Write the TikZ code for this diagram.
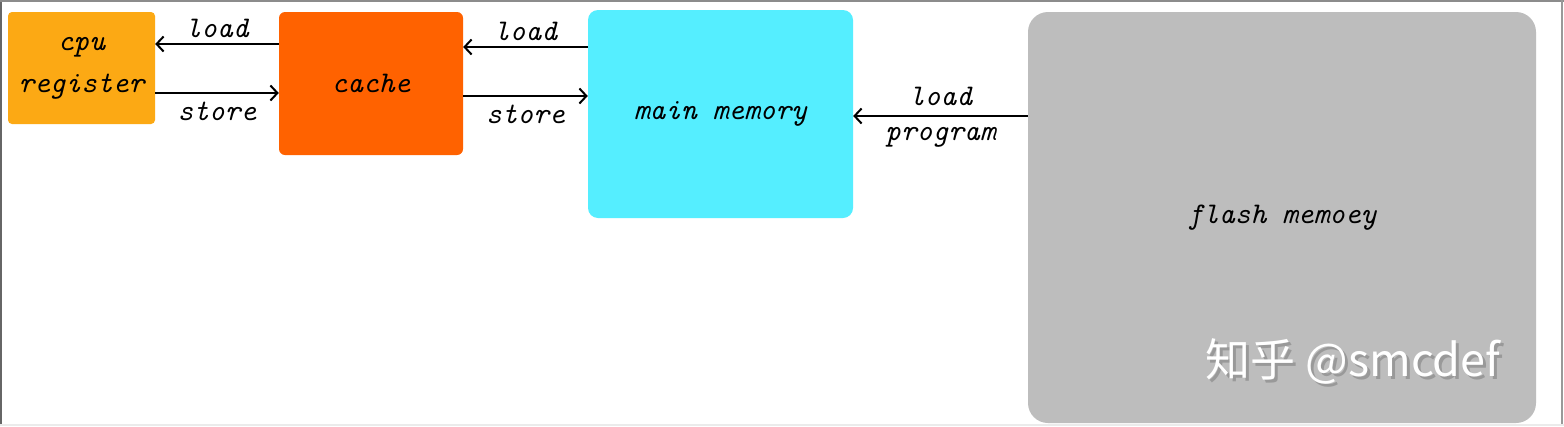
\documentclass[tikz,border=0pt]{standalone}
\usepackage{fontspec}
\newfontfamily\cjk{Noto Sans CJK SC}
\usetikzlibrary{arrows.meta}
\definecolor{cpuc}{HTML}{FCA914}
\definecolor{cachec}{HTML}{FF6200}
\definecolor{mainc}{HTML}{55EEFF}
\definecolor{flashc}{HTML}{BDBDBD}
\newcommand\handfont{\fontsize{30}{42}\selectfont\ttfamily\itshape}
\begin{document}
\begin{tikzpicture}[x=1pt,y=-1pt,
  box/.style={inner sep=0pt, font=\handfont, align=center},
  arr/.style={line width=2pt, -{Straight Barb[length=7pt,width=15pt,line width=2pt]}},
  lbl/.style={font=\handfont, inner sep=1pt}]
\useasboundingbox (0,0) rectangle (1564,426);
\fill[white] (0,0) rectangle (1564,426);
% frame
\draw[black!60, line width=2pt] (1,426) -- (1,1);
\draw[black!45, line width=1.5pt] (0,1) -- (1564,1);
\draw[black!40, line width=2pt] (1562,0) -- (1562,426);
\draw[black!8, line width=1.5pt] (0,425) -- (1564,425);
% boxes
\node[box, fill=cpuc, rounded corners=4pt, minimum width=147pt, minimum height=112pt] (cpu) at (81.5,68) {cpu\\register};
\node[box, fill=cachec, rounded corners=6pt, minimum width=184pt, minimum height=143pt] (cache) at (371,83.5) {cache};
\node[box, fill=mainc, rounded corners=10pt, minimum width=265pt, minimum height=208pt] (main) at (720.5,114) {main memory};
\node[box, fill=flashc, rounded corners=20pt, minimum width=508pt, minimum height=411pt] (flash) at (1282,217.5) {flash memoey};
% helper coordinates for arrow heights
\coordinate (h1) at (0,44);
\coordinate (h2) at (0,93);
\coordinate (h3) at (0,47);
\coordinate (h4) at (0,96);
\coordinate (h5) at (0,116);
% arrows
\draw[arr] (cache.west |- h1) -- node[lbl, above=4pt] {load} (cpu.east |- h1);
\draw[arr] (cpu.east |- h2) -- node[lbl, below=7pt] {store} (cache.west |- h2);
\draw[arr] (main.west |- h3) -- node[lbl, above=4pt] {load} (cache.east |- h3);
\draw[arr] (cache.east |- h4) -- node[lbl, below=7pt] {store} (main.west |- h4);
\draw[arr] (flash.west |- h5) -- node[lbl, above=8pt] {load} node[lbl, below=9pt] {program} (main.east |- h5);
% watermark
\node[font=\cjk\fontsize{45}{50}\selectfont, text=black!40] (wms) at (1356,364) {知乎 @smcdef};
\node[font=\cjk\fontsize{45}{50}\selectfont, text=white] (wm) at (1353,361) {知乎 @smcdef};
\end{tikzpicture}
\end{document}
